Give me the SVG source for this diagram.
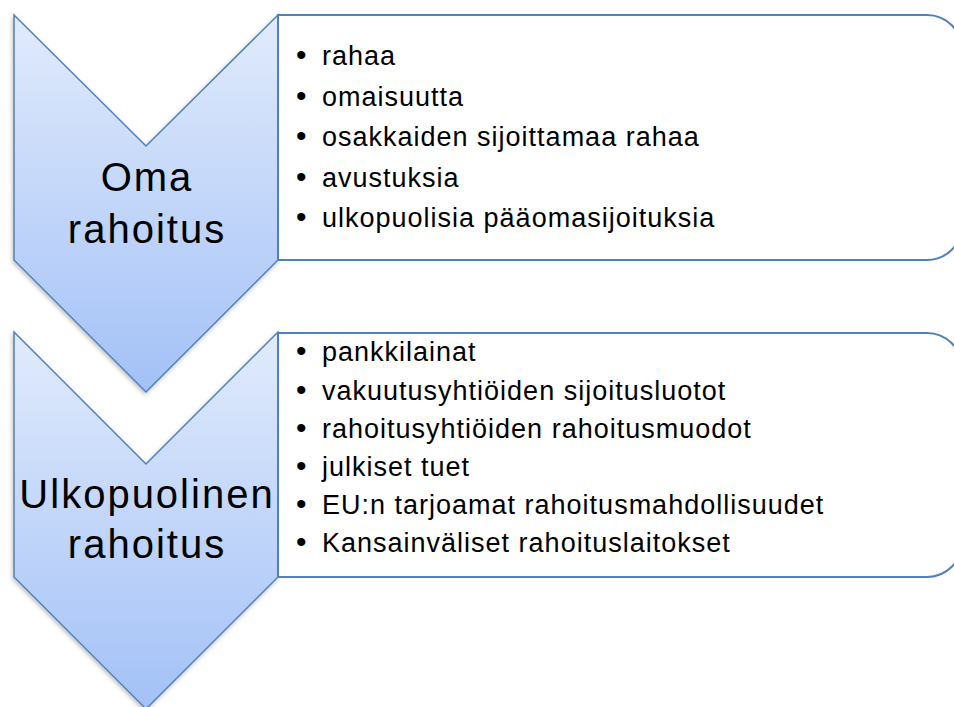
<svg xmlns="http://www.w3.org/2000/svg" width="954" height="707" viewBox="0 0 954 707">
  <defs>
    <linearGradient id="chevFill" x1="0" y1="0" x2="0" y2="1">
      <stop offset="0" stop-color="#E1EBFC"/>
      <stop offset="1" stop-color="#A3C1F7"/>
    </linearGradient>
    <filter id="shadow" x="-10%" y="-10%" width="120%" height="120%">
      <feDropShadow dx="-1" dy="2" stdDeviation="2" flood-color="#000" flood-opacity="0.25"/>
    </filter>
  </defs>
  <style>
    .chev { fill: url(#chevFill); stroke: #4F81BD; stroke-width: 1.5; filter: url(#shadow); }
    .box { fill: #FFFFFF; stroke: #4F81BD; stroke-width: 2; }
    .title { font-family: "Liberation Sans", Arial, sans-serif; font-size: 40px; letter-spacing: 2px; fill: #000; text-anchor: middle; }
    .item { font-family: "Liberation Sans", Arial, sans-serif; font-size: 27px; letter-spacing: 1px; fill: #000; }
    .bul { font-size: 30px; letter-spacing: 0; }
  </style>
  <rect width="954" height="707" fill="#FFFFFF"/>

  <g id="chevron-oma">
    <path class="chev" d="M14,15 L146,146 L278,15 L278,260 L146,392 L14,260 Z"/>
    <text class="title" x="147" y="191">Oma</text>
    <text class="title" x="147" y="243">rahoitus</text>
  </g>

  <g id="box-oma">
    <path class="box" d="M278,15 H927 A35,35 0 0 1 962,50 V225 A35,35 0 0 1 927,260 H278 Z"/>
    <text class="item" y="65"><tspan class="bul" x="296">•</tspan><tspan x="322">rahaa</tspan></text>
    <text class="item" y="106"><tspan class="bul" x="296">•</tspan><tspan x="322">omaisuutta</tspan></text>
    <text class="item" y="146"><tspan class="bul" x="296">•</tspan><tspan x="322">osakkaiden sijoittamaa rahaa</tspan></text>
    <text class="item" y="187"><tspan class="bul" x="296">•</tspan><tspan x="322">avustuksia</tspan></text>
    <text class="item" y="227"><tspan class="bul" x="296">•</tspan><tspan x="322">ulkopuolisia pääomasijoituksia</tspan></text>
  </g>

  <g id="chevron-ulkopuolinen">
    <path class="chev" d="M14,332 L146,464 L278,332 L278,577 L146,709 L14,577 Z"/>
    <text class="title" x="147" y="508">Ulkopuolinen</text>
    <text class="title" x="147" y="558">rahoitus</text>
  </g>

  <g id="box-ulkopuolinen">
    <path class="box" d="M278,333 H927 A35,35 0 0 1 962,368 V542 A35,35 0 0 1 927,577 H278 Z"/>
    <text class="item" y="361"><tspan class="bul" x="296">•</tspan><tspan x="322">pankkilainat</tspan></text>
    <text class="item" y="400"><tspan class="bul" x="296">•</tspan><tspan x="322">vakuutusyhtiöiden sijoitusluotot</tspan></text>
    <text class="item" y="438"><tspan class="bul" x="296">•</tspan><tspan x="322">rahoitusyhtiöiden rahoitusmuodot</tspan></text>
    <text class="item" y="476"><tspan class="bul" x="296">•</tspan><tspan x="322">julkiset tuet</tspan></text>
    <text class="item" y="514"><tspan class="bul" x="296">•</tspan><tspan x="322">EU:n tarjoamat rahoitusmahdollisuudet</tspan></text>
    <text class="item" y="552"><tspan class="bul" x="296">•</tspan><tspan x="322">Kansainväliset rahoituslaitokset</tspan></text>
  </g>

  <g id="connectors"/>
</svg>
